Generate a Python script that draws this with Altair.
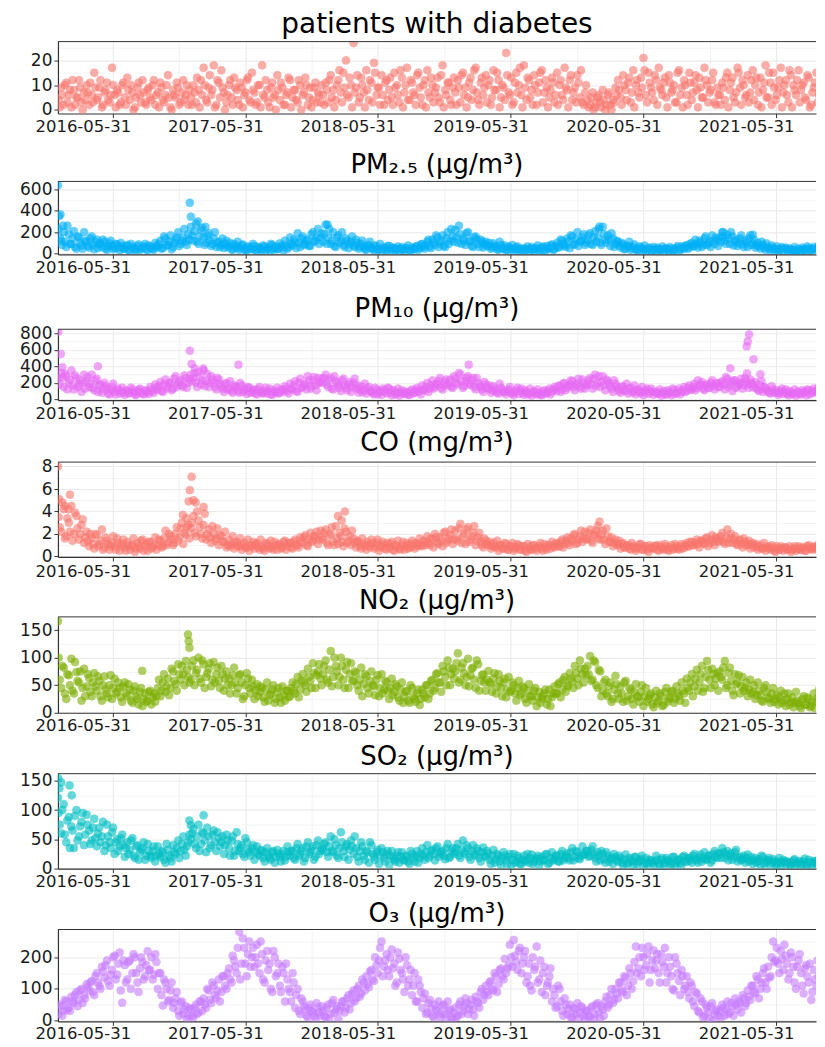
import altair as alt
import pandas as pd

# ---------------- data: two readings per week (Sundays from 2016-01-03, Wednesdays from 2016-01-06),
# ---------------- plus isolated extreme days
SUN_START = "2016-01-03"
WED_START = "2016-01-06"

diabetes_sun = [
    4, 9, 2, 11, 6, 1, 8, 5, 12, 3, 7, 10, 2,   6, 15, 4, 9, 1, 7, 11, 3, 17, 6, 8, 2, 10,
    5, 13, 4, 7, 1, 9, 6, 12, 3, 8, 5, 10, 2,    7, 11, 4, 6, 14, 1, 8, 5, 9, 3, 12, 6, 2,
    5, 10, 3, 8, 12, 17, 4, 9, 6, 18, 2, 11, 16, 7, 3, 10, 5, 13, 8, 2, 9, 6, 12, 4, 15, 7,
    3, 10, 18, 5, 8, 1, 11, 6, 14, 4, 9, 2, 7,   12, 5, 8, 3, 10, 6, 13, 2, 9, 4, 11, 7, 3,
    6, 11, 3, 14, 8, 4, 12, 7, 15, 20, 5, 10, 27, 9, 3, 13, 7, 16, 4, 11, 19, 6, 9, 14, 2, 12,
    8, 5, 15, 10, 3, 13, 7, 17, 4, 11, 6, 14, 9, 2, 12, 16, 5, 10, 7, 13, 3, 18, 8, 11, 4, 9,
    7, 12, 3, 15, 9, 5, 13, 8, 17, 4, 11, 6, 14, 10, 2, 16, 8, 12, 5, 9, 23, 7, 13, 3, 15, 10,
    6, 18, 4, 12, 8, 14, 2, 11, 16, 7, 9, 5, 13, 3, 15, 10, 6, 17, 8, 12, 4, 9, 14, 5, 3, 7,
    4, 2, 7, 1, 5, 3, 8, 0, 6, 2, 4, 9, 12,      5, 14, 8, 11, 3, 16, 10, 7, 13, 21, 6, 15, 9,
    4, 12, 17, 8, 11, 5, 14, 7, 10, 3, 16, 9, 12, 6, 15, 4, 11, 8, 13, 5, 17, 10, 7, 12, 3, 9,
    6, 11, 4, 15, 8, 13, 3, 17, 9, 12, 5, 14, 7, 16, 10, 2, 13, 8, 18, 5, 11, 15, 4, 9, 17, 7,
    12, 3, 14, 10, 6, 16, 8, 11, 4, 13, 2, 9, 15, 6, 8, 3, 11, 5, 10, 1, 7, 12, 4, 9, 2, 6,
]
diabetes_wed = [
    1, 6, 10, 3, 8, 12, 2, 5, 9, 0, 4, 7, 11,    3, 9, 5, 12, 2, 8, 4, 6, 10, 1, 7, 3, 11,
    2, 8, 10, 0, 5, 11, 3, 7, 2, 9, 4, 12, 6,    1, 9, 3, 10, 5, 0, 6, 11, 2, 7, 4, 10, 8,
    2, 7, 13, 1, 6, 10, 3, 14, 8, 1, 12, 5, 9,   0, 6, 12, 2, 9, 4, 11, 1, 7, 13, 3, 8, 2,
    10, 1, 6, 12, 3, 9, 5, 0, 8, 11, 2, 6, 13,   1, 8, 4, 12, 0, 7, 10, 5, 1, 9, 3, 6, 10,
    2, 8, 12, 5, 1, 10, 16, 3, 9, 6, 13, 1, 7,   14, 5, 10, 1, 8, 12, 3, 15, 9, 2, 6, 11, 4,
    13, 2, 9, 6, 16, 1, 10, 4, 12, 7, 2, 15, 5,  10, 1, 7, 13, 3, 9, 5, 14, 1, 6, 11, 2, 13,
    2, 9, 14, 6, 1, 11, 4, 16, 7, 2, 13, 9, 3,   12, 5, 8, 15, 1, 10, 4, 14, 6, 2, 11, 7, 17,
    1, 9, 13, 5, 2, 10, 7, 15, 3, 12, 1, 8, 11,  6, 2, 12, 4, 9, 1, 14, 7, 3, 11, 16, 2, 10,
    1, 5, 0, 3, 6, 1, 4, 2, 7, 0, 3, 6, 8,       2, 10, 4, 13, 7, 1, 12, 5, 9, 16, 3, 11, 7,
    14, 2, 9, 6, 13, 1, 11, 8, 3, 15, 6, 1, 10,  2, 11, 7, 14, 1, 9, 5, 12, 3, 8, 15, 2, 6,
    2, 9, 13, 1, 11, 5, 7, 15, 2, 10, 6, 3, 12,  4, 13, 7, 1, 11, 5, 15, 2, 9, 6, 12, 1, 10,
    6, 16, 1, 8, 12, 3, 10, 5, 14, 1, 7, 11, 3,  10, 2, 6, 1, 8, 3, 12, 0, 5, 9, 2, 7, 1,
]
diabetes_extra_dates = []
diabetes_extra_values = []

pm25_sun = [
    230, 120, 200, 60, 180, 90, 210, 45, 150, 75, 200, 110, 55,  160, 40, 130, 85, 60, 110, 35, 95, 70, 50, 85, 30, 65,
    45, 80, 25, 60, 40, 70, 35, 55, 90, 30, 65, 45, 100,          60, 120, 50, 140, 80, 170, 60, 130, 200, 90, 150, 110, 180,
    250, 120, 280, 90, 220, 150, 100, 190, 70, 140, 60, 110, 80, 50, 120, 65, 40, 90, 55, 35, 75, 45, 30, 60, 40, 70,
    25, 55, 35, 65, 45, 30, 80, 50, 40, 95, 60, 120, 45,          150, 75, 110, 190, 60, 160, 90, 130, 70, 200, 120, 230, 150,
    110, 270, 150, 90, 200, 60, 170, 120, 80, 140, 50, 110, 75,   130, 45, 90, 60, 35, 80, 50, 30, 65, 40, 25, 55, 35,
    70, 28, 50, 40, 22, 60, 35, 45, 30, 55, 40, 70, 50,           90, 45, 110, 65, 130, 80, 150, 95, 170, 60, 200, 120, 160,
    220, 100, 180, 140, 80, 200, 120, 60, 160, 90, 130, 55, 110,  70, 45, 95, 60, 35, 80, 45, 30, 65, 40, 25, 55, 32,
    20, 50, 38, 28, 60, 30, 45, 25, 55, 35, 70, 45, 85,           40, 100, 60, 120, 75, 140, 50, 160, 90, 200, 110, 150, 80,
    120, 190, 80, 210, 150, 100, 250, 130, 170, 70, 140, 90, 110, 55, 85, 45, 70, 35, 60, 40, 28, 55, 32, 22, 48, 30,
    60, 25, 42, 35, 20, 50, 30, 45, 28, 55, 38, 65, 45,           80, 55, 100, 70, 90, 120, 60, 140, 80, 110, 170, 90, 130,
    150, 200, 120, 175, 90, 160, 110, 70, 140, 85, 120, 60, 170,  95, 55, 100, 45, 80, 35, 60, 28, 50, 40, 25, 45, 30,
    55, 22, 38, 30, 18, 45, 28, 40, 25, 50, 35, 60, 40,           75, 50, 90, 55, 70, 100, 45, 85, 65, 110, 60, 95, 80,
]
pm25_wed = [
    150, 80, 110, 260, 90, 140, 60, 160, 100, 45, 120, 70, 140,   80, 110, 50, 95, 130, 45, 70, 120, 40, 90, 55, 100, 45,
    70, 35, 90, 50, 30, 85, 45, 65, 40, 75, 50, 35, 70,           90, 45, 160, 75, 110, 40, 100, 150, 70, 120, 230, 80, 130,
    170, 210, 110, 160, 240, 80, 170, 120, 90, 200, 100, 60, 140, 90, 60, 100, 35, 70, 110, 50, 85, 30, 65, 45, 90, 35,
    60, 40, 75, 30, 55, 90, 35, 65, 45, 70, 30, 80, 60,           90, 130, 50, 100, 140, 80, 120, 70, 180, 110, 150, 90, 190,
    180, 90, 230, 120, 70, 150, 100, 200, 60, 120, 90, 160, 60,   100, 60, 120, 40, 70, 110, 45, 75, 35, 90, 50, 30, 70,
    40, 55, 30, 65, 45, 35, 50, 75, 25, 45, 65, 35, 85,           60, 75, 130, 50, 100, 170, 60, 120, 70, 140, 90, 230, 110,
    150, 260, 90, 120, 190, 110, 70, 150, 130, 60, 110, 90, 70,   100, 55, 70, 40, 110, 50, 75, 35, 50, 80, 40, 65, 45,
    40, 30, 65, 45, 35, 50, 75, 35, 65, 25, 50, 75, 35,           70, 55, 130, 90, 60, 110, 170, 80, 130, 70, 120, 180, 100,
    170, 90, 150, 110, 230, 80, 180, 100, 130, 190, 60, 120, 75,  100, 40, 70, 110, 50, 85, 30, 65, 45, 75, 38, 55, 25,
    40, 55, 30, 65, 45, 35, 60, 25, 40, 70, 30, 50, 70,           45, 90, 65, 130, 55, 100, 80, 160, 95, 60, 120, 150, 70,
    110, 160, 90, 140, 200, 75, 130, 95, 170, 60, 100, 140, 80,   130, 75, 65, 110, 55, 95, 45, 75, 38, 65, 30, 60, 45,
    35, 48, 25, 60, 32, 25, 55, 35, 65, 30, 45, 25, 55,           50, 95, 35, 80, 110, 60, 75, 120, 50, 85, 130, 70, 105,
]
pm25_extra_dates = ["2016-01-01", "2016-01-04", "2016-01-08", "2016-01-15", "2016-12-29", "2017-01-01",
                    "2017-01-20", "2017-02-10", "2018-01-12", "2020-01-31", "2021-01-05", "2021-03-28"]
pm25_extra_values = [640, 350, 365, 260, 475, 345, 300, 250, 270, 252, 200, 175]

pm10_sun = [
    250, 320, 150, 280, 200, 350, 120, 260, 180, 90, 300, 220, 150,  300, 110, 250, 170, 80, 200, 130, 60, 150, 90, 110, 70, 140,
    55, 100, 80, 120, 60, 95, 130, 70, 110, 85, 150, 100, 180,       120, 210, 90, 240, 160, 200, 130, 280, 180, 230, 150, 260, 200,
    300, 260, 200, 330, 180, 350, 220, 150, 280, 200, 120, 240, 160, 90, 200, 130, 100, 170, 150, 80, 170, 110, 65, 140, 90, 120,
    60, 150, 80, 100, 70, 130, 55, 90, 140, 80, 110, 160, 100,       190, 120, 220, 90, 250, 150, 180, 280, 130, 230, 170, 260, 210,
    200, 300, 150, 260, 120, 220, 170, 100, 250, 140, 180, 90, 200,  130, 80, 160, 110, 70, 150, 90, 60, 120, 85, 55, 110, 70,
    130, 50, 95, 75, 45, 110, 65, 85, 55, 120, 80, 140, 100,         170, 110, 200, 130, 230, 150, 180, 260, 120, 210, 170, 240, 140,
    250, 180, 300, 140, 220, 280, 170, 260, 120, 200, 150, 90, 180,  130, 80, 160, 100, 70, 140, 90, 60, 120, 80, 50, 110, 65,
    130, 55, 90, 70, 45, 100, 60, 80, 50, 110, 75, 130, 90,          150, 100, 170, 120, 200, 140, 180, 220, 110, 190, 150, 240, 130,
    180, 260, 130, 300, 200, 150, 280, 110, 220, 160, 90, 190, 130,  80, 160, 100, 70, 140, 85, 60, 120, 75, 50, 110, 65, 130,
    55, 90, 70, 45, 100, 60, 85, 50, 115, 75, 130, 90, 150,          100, 170, 120, 190, 140, 160, 210, 110, 180, 140, 230, 120, 200,
    150, 220, 120, 250, 180, 100, 230, 160, 200, 130, 260, 180, 240, 150, 210, 120, 170, 90, 140, 100, 70, 120, 80, 55, 100, 65,
    120, 50, 85, 70, 45, 95, 60, 80, 50, 110, 75, 130, 90,           150, 110, 170, 130, 190, 100, 160, 200, 120, 180, 140, 210, 130,
]
pm10_wed = [
    180, 260, 310, 120, 240, 170, 290, 150, 230, 200, 130, 270, 190, 140, 230, 90, 180, 120, 160, 70, 110, 190, 60, 130, 100, 80,
    110, 70, 140, 90, 50, 115, 80, 60, 100, 65, 120, 80, 140,        160, 100, 180, 130, 200, 110, 250, 150, 210, 170, 290, 140, 240,
    220, 320, 150, 270, 230, 160, 310, 200, 240, 150, 260, 190, 130, 180, 120, 220, 80, 150, 100, 200, 90, 130, 150, 80, 110, 70,
    120, 90, 70, 140, 100, 60, 110, 85, 70, 120, 95, 130, 70,        130, 170, 100, 200, 140, 180, 120, 230, 160, 270, 110, 200, 250,
    260, 180, 230, 130, 280, 200, 140, 230, 170, 110, 210, 150, 250, 170, 120, 90, 190, 130, 100, 80, 140, 60, 100, 130, 90, 140,
    80, 110, 60, 130, 85, 70, 95, 55, 100, 70, 115, 95, 60,          120, 150, 90, 170, 130, 190, 220, 140, 170, 240, 190, 150, 280,
    200, 320, 220, 160, 260, 190, 230, 150, 260, 170, 120, 210, 140, 170, 110, 130, 80, 190, 120, 90, 100, 150, 70, 90, 140, 100,
    80, 110, 60, 130, 85, 70, 120, 55, 95, 70, 100, 60, 120,         120, 160, 90, 190, 110, 160, 230, 150, 170, 250, 130, 200, 170,
    230, 180, 250, 160, 280, 210, 170, 240, 190, 130, 230, 160, 100, 150, 110, 190, 130, 90, 170, 110, 90, 150, 95, 130, 85, 100,
    90, 70, 120, 80, 60, 110, 75, 130, 65, 95, 60, 110, 90,          140, 120, 150, 110, 230, 180, 130, 170, 140, 200, 160, 190, 150,
    200, 180, 270, 150, 210, 230, 140, 190, 250, 170, 220, 140, 200, 180, 130, 100, 220, 150, 110, 80, 160, 90, 110, 75, 130, 90,
    70, 100, 60, 120, 80, 65, 110, 90, 120, 60, 100, 85, 110,        120, 180, 90, 150, 110, 160, 140, 120, 200, 160, 110, 180, 150,
]
pm10_extra_dates = ["2016-01-02", "2016-01-09", "2016-01-13", "2016-04-20", "2016-12-29", "2017-01-03",
                    "2017-01-12", "2017-02-04", "2017-05-12", "2019-02-05", "2021-01-25", "2021-03-18",
                    "2021-03-14", "2021-03-11", "2021-03-30", "2021-03-12", "2021-04-18"]
pm10_extra_values = [820, 550, 390, 400, 590, 430, 375, 375, 420, 420, 376, 788, 703, 642, 485, 315, 303]

co_sun = [
    3.5, 2.2, 4.2, 1.8, 3.0, 4.5, 2.0, 3.6, 1.5, 2.8, 1.2, 2.2, 0.9,  1.6, 0.7, 1.9, 1.1, 2.4, 0.8, 1.4, 0.6, 1.2, 0.9, 1.6, 0.5, 1.1,
    0.8, 1.3, 0.6, 1.0, 0.4, 1.2, 0.7, 1.5, 0.9, 0.5, 1.3, 0.8, 1.7,  1.0, 1.4, 0.9, 2.3, 1.2, 1.8, 1.0, 2.0, 1.4, 2.5, 1.1, 1.9, 2.8,
    2.5, 3.6, 1.8, 3.2, 2.0, 2.8, 1.5, 2.4, 1.2, 2.0, 1.6, 1.0, 1.8,  1.3, 0.8, 1.5, 1.1, 0.7, 1.3, 0.9, 0.6, 1.2, 0.8, 0.5, 1.0, 0.7,
    1.2, 0.6, 0.9, 0.5, 1.1, 0.7, 0.8, 1.3, 0.6, 1.0, 0.8, 1.4, 0.9,  1.2, 0.7, 1.5, 1.0, 1.7, 1.2, 1.9, 0.9, 2.1, 1.4, 1.8, 1.1, 2.3,
    1.5, 2.4, 1.0, 2.0, 1.3, 2.7, 1.1, 1.8, 0.9, 2.2, 1.4, 1.0, 1.6,  0.8, 1.3, 0.7, 1.1, 0.6, 1.0, 1.5, 0.7, 1.2, 0.5, 0.9, 1.1, 0.6,
    0.8, 1.3, 0.5, 0.9, 0.7, 1.0, 0.6, 1.2, 0.8, 1.4, 0.7, 1.1, 1.6,  0.9, 1.3, 1.8, 1.0, 1.5, 2.0, 1.2, 1.7, 0.9, 2.2, 1.4, 1.9, 1.1,
    2.3, 1.4, 2.9, 1.8, 1.1, 2.6, 1.5, 2.1, 1.0, 1.7, 1.3, 0.8, 1.4,  1.0, 0.7, 1.2, 0.8, 0.5, 1.0, 0.7, 1.1, 0.6, 0.9, 0.5, 0.8, 1.0,
    0.6, 0.9, 0.4, 0.8, 0.6, 1.0, 0.5, 0.9, 0.7, 1.1, 0.6, 1.0, 1.3,  0.8, 1.2, 0.9, 1.5, 1.1, 1.7, 1.0, 1.4, 2.0, 1.2, 1.8, 1.3, 2.2,
    1.6, 2.4, 1.2, 2.0, 2.7, 1.5, 2.3, 1.1, 1.8, 1.3, 0.9, 1.5, 1.0,  0.7, 1.2, 0.8, 1.0, 0.6, 0.9, 0.5, 0.8, 1.1, 0.6, 0.9, 0.4, 0.8,
    0.7, 1.0, 0.5, 0.8, 0.6, 0.9, 0.5, 1.0, 0.7, 0.9, 0.6, 1.1, 0.8,  1.2, 0.9, 1.3, 1.0, 1.5, 0.8, 1.4, 1.1, 1.7, 1.2, 1.9, 1.0, 1.6,
    1.4, 2.1, 1.1, 2.4, 1.6, 1.2, 1.8, 1.0, 1.5, 0.8, 1.3, 1.0, 0.7,  1.2, 0.9, 0.6, 1.0, 0.7, 0.5, 0.9, 0.6, 0.8, 0.4, 0.7, 0.9, 0.5,
    0.8, 0.6, 0.4, 0.7, 0.5, 0.9, 0.6, 0.8, 0.5, 1.0, 0.7, 0.9, 0.6,  1.1, 0.8, 1.3, 0.9, 1.5, 1.0, 1.2, 1.7, 0.9, 1.4, 1.1, 1.8, 1.2,
]
co_wed = [
    2.6, 4.8, 1.6, 3.4, 2.2, 1.4, 3.9, 2.5, 2.0, 3.3, 1.7, 1.4, 2.0,  1.1, 2.0, 0.9, 1.4, 0.6, 1.7, 1.1, 0.9, 1.8, 0.6, 1.2, 0.9, 1.5,
    0.5, 1.0, 0.9, 1.6, 0.7, 0.9, 1.4, 0.5, 1.1, 1.3, 0.7, 1.0, 0.6,  1.5, 0.8, 1.6, 1.0, 2.0, 1.5, 1.2, 2.6, 1.7, 3.0, 2.1, 2.6, 1.6,
    3.0, 2.1, 4.0, 2.6, 1.6, 3.8, 2.0, 1.7, 2.7, 1.4, 2.5, 1.9, 1.3,  2.2, 1.0, 0.9, 1.8, 1.2, 0.9, 1.6, 1.0, 0.8, 1.5, 0.9, 1.3, 1.1,
    0.8, 1.5, 0.7, 1.2, 0.9, 1.4, 0.6, 1.0, 1.1, 0.7, 1.3, 0.6, 1.2,  0.8, 1.3, 1.0, 0.8, 1.4, 1.7, 1.0, 1.5, 1.3, 1.8, 2.2, 1.5, 1.7,
    2.1, 1.2, 1.9, 2.6, 1.0, 1.6, 2.1, 1.3, 2.5, 1.2, 1.8, 2.3, 1.2,  1.4, 0.9, 1.6, 0.9, 1.3, 0.8, 1.2, 0.9, 1.5, 0.8, 1.3, 0.7, 1.2,
    1.1, 0.6, 1.0, 1.4, 0.6, 1.3, 0.9, 0.7, 1.1, 0.9, 1.2, 0.9, 1.0,  1.4, 1.0, 1.2, 1.6, 0.8, 1.7, 1.1, 1.4, 2.1, 1.2, 1.6, 2.4, 1.5,
    1.6, 2.5, 1.2, 2.0, 2.4, 1.3, 1.8, 2.7, 1.4, 2.1, 1.0, 1.6, 1.1,  1.3, 0.9, 0.9, 1.4, 1.0, 0.7, 1.2, 0.6, 0.9, 1.2, 0.7, 1.1, 0.6,
    0.9, 0.5, 1.1, 0.6, 1.0, 0.7, 0.8, 1.2, 0.5, 0.8, 1.0, 0.7, 0.9,  1.1, 0.9, 1.3, 0.8, 1.4, 1.2, 1.6, 1.9, 1.1, 1.5, 2.3, 1.6, 1.5,
    2.1, 1.4, 1.9, 2.3, 1.6, 2.0, 1.5, 2.5, 1.3, 1.7, 1.2, 1.1, 1.4,  1.1, 0.8, 1.0, 0.7, 1.2, 0.8, 0.7, 1.1, 0.6, 0.9, 0.6, 1.0, 0.7,
    0.9, 0.6, 1.0, 0.7, 1.1, 0.6, 0.8, 0.6, 1.1, 0.7, 0.9, 0.7, 1.0,  0.9, 1.3, 1.0, 1.2, 1.1, 1.4, 1.2, 1.6, 0.9, 1.5, 1.3, 1.7, 1.3,
    1.8, 1.3, 1.7, 1.2, 2.0, 1.5, 1.1, 1.4, 1.1, 1.6, 1.0, 1.4, 1.1,  0.8, 1.1, 0.8, 0.7, 1.2, 0.8, 0.7, 1.0, 0.5, 0.9, 0.6, 0.7, 0.8,
    0.6, 0.9, 0.6, 0.9, 0.7, 0.6, 0.8, 0.5, 0.9, 0.7, 0.6, 0.8, 0.9,  0.7, 1.2, 0.9, 1.1, 1.0, 1.4, 0.8, 1.3, 1.5, 1.1, 1.6, 1.0, 1.4,
]
co_extra_dates = ["2016-01-01", "2016-01-04", "2016-02-03", "2016-01-20", "2016-01-30", "2016-12-10",
                  "2016-12-20", "2016-12-26", "2016-12-29", "2017-01-03", "2017-01-08", "2017-01-14",
                  "2017-02-05", "2018-02-10", "2018-02-20", "2018-03-01", "2020-01-31"]
co_extra_values = [8.0, 5.1, 5.5, 4.5, 4.2, 3.7, 3.4, 4.9, 5.9, 7.1, 5.0, 4.8, 4.4, 3.6, 3.2, 4.0, 3.1]

no2_sun = [
    100, 45, 82, 25, 68, 98, 35, 74, 55, 22, 80, 48, 63,  30, 72, 40, 58, 22, 66, 35, 50, 25, 62, 38, 45, 20,
    55, 30, 42, 18, 48, 25, 38, 12, 35, 22, 40, 28, 20,   45, 30, 55, 38, 62, 45, 75, 52, 88, 60, 70, 94, 65,
    60, 95, 72, 100, 55, 88, 65, 80, 48, 92, 70, 58, 85,  40, 75, 62, 50, 82, 35, 68, 55, 30, 72, 45, 60, 25,
    52, 38, 45, 20, 55, 32, 42, 18, 38, 28, 48, 22, 40,   30, 55, 35, 65, 42, 70, 50, 80, 58, 90, 45, 75, 62,
    70, 95, 55, 112, 65, 85, 50, 100, 60, 78, 45, 90, 58, 72, 40, 82, 52, 66, 35, 75, 48, 60, 30, 70, 42, 55,
    25, 62, 38, 48, 22, 55, 30, 40, 18, 45, 25, 35, 14,   42, 28, 50, 35, 60, 45, 72, 55, 85, 65, 95, 50, 80,
    75, 108, 60, 90, 50, 98, 68, 82, 45, 88, 58, 70, 40,  76, 52, 62, 35, 70, 45, 55, 28, 65, 40, 50, 22, 58,
    35, 45, 18, 52, 30, 40, 12, 38, 25, 35, 15, 42, 28,   48, 35, 55, 42, 65, 50, 72, 58, 85, 62, 95, 70, 80,
    85, 103, 60, 92, 45, 75, 40, 60, 30, 55, 25, 67, 35,  48, 20, 58, 30, 42, 15, 52, 28, 38, 12, 45, 25, 35,
    10, 40, 22, 30, 14, 45, 25, 38, 18, 48, 30, 55, 35,   62, 40, 70, 48, 78, 55, 85, 45, 94, 60, 80, 50, 72,
    75, 60, 94, 50, 82, 40, 70, 55, 35, 65, 45, 30, 60,   38, 25, 55, 32, 20, 50, 28, 18, 45, 25, 15, 40, 22,
    12, 35, 20, 10, 38, 18, 8, 30, 15, 25, 12, 35, 20,    42, 25, 48, 30, 55, 22, 45, 35, 58, 28, 50, 40, 32,
]
no2_wed = [
    60, 85, 35, 70, 50, 40, 92, 58, 75, 45, 30, 70, 38,   55, 48, 66, 30, 50, 42, 28, 68, 45, 35, 55, 28, 48,
    35, 52, 22, 40, 30, 15, 45, 25, 20, 38, 15, 35, 30,   60, 40, 70, 48, 32, 80, 58, 40, 70, 85, 50, 78, 55,
    85, 50, 78, 62, 95, 45, 72, 90, 60, 55, 82, 45, 70,   62, 50, 35, 68, 55, 45, 70, 25, 50, 62, 35, 48, 40,
    30, 48, 28, 42, 22, 35, 50, 25, 45, 18, 32, 40, 28,   45, 40, 52, 28, 58, 55, 38, 65, 45, 72, 68, 88, 50,
    85, 60, 78, 48, 100, 75, 65, 85, 45, 92, 70, 58, 75,  50, 60, 30, 70, 45, 58, 50, 32, 68, 45, 35, 58, 40,
    45, 32, 52, 28, 42, 18, 38, 22, 50, 30, 20, 42, 25,   35, 50, 25, 58, 40, 70, 55, 38, 75, 50, 82, 70, 62,
    90, 55, 82, 72, 65, 48, 80, 60, 95, 40, 68, 55, 60,   55, 38, 72, 48, 58, 30, 62, 42, 38, 55, 35, 45, 32,
    48, 25, 40, 30, 22, 45, 28, 18, 30, 42, 25, 12, 35,   35, 52, 28, 60, 38, 48, 62, 45, 72, 50, 80, 55, 68,
    70, 58, 95, 50, 78, 30, 55, 35, 48, 20, 42, 52, 25,   35, 55, 22, 45, 25, 38, 30, 20, 50, 30, 20, 32, 15,
    28, 18, 35, 12, 38, 20, 28, 40, 25, 35, 22, 40, 18,   45, 55, 30, 62, 40, 70, 38, 65, 78, 45, 70, 62, 40,
    65, 82, 45, 72, 58, 32, 52, 68, 48, 40, 55, 42, 35,   50, 32, 40, 22, 45, 38, 25, 35, 20, 32, 28, 18, 35,
    25, 15, 28, 18, 22, 12, 25, 15, 28, 10, 20, 8, 28,    30, 38, 20, 40, 25, 48, 35, 28, 45, 38, 25, 52, 45,
]
no2_extra_dates = ["2016-01-01", "2016-08-20", "2016-12-24", "2016-12-26", "2016-12-28"]
no2_extra_values = [166, 76, 142, 130, 118]

so2_sun = [
    95, 60, 110, 45, 88, 72, 35, 100, 55, 80, 40, 92, 65,  48, 85, 38, 70, 55, 30, 75, 45, 62, 25, 50, 38, 58,
    20, 45, 32, 52, 18, 40, 28, 35, 15, 42, 22, 30, 12,    38, 20, 28, 10, 32, 18, 40, 25, 48, 30, 55, 22, 45,
    50, 68, 35, 75, 42, 60, 28, 55, 40, 65, 30, 52, 45,    25, 58, 35, 48, 22, 62, 30, 40, 20, 45, 28, 35, 15,
    38, 22, 30, 12, 35, 18, 28, 10, 32, 20, 25, 14, 38,    22, 30, 15, 42, 25, 35, 18, 45, 28, 38, 20, 48, 30,
    32, 45, 20, 55, 28, 40, 18, 62, 30, 38, 15, 48, 25,    35, 12, 45, 22, 30, 10, 40, 20, 28, 8, 35, 18, 25,
    6, 30, 15, 22, 10, 28, 14, 20, 8, 25, 12, 30, 18,      35, 15, 40, 22, 32, 14, 38, 25, 30, 16, 42, 20, 35,
    28, 42, 18, 48, 25, 35, 15, 40, 22, 30, 12, 36, 20,    26, 8, 32, 16, 22, 6, 28, 14, 20, 5, 25, 12, 18,
    8, 22, 15, 10, 24, 12, 18, 6, 20, 14, 25, 10, 28,      16, 22, 12, 30, 18, 26, 14, 35, 20, 28, 16, 38, 24,
    30, 22, 38, 18, 28, 14, 25, 10, 22, 16, 8, 20, 12,     18, 6, 24, 10, 15, 5, 20, 12, 16, 4, 18, 10, 14,
    6, 22, 9, 15, 5, 18, 12, 8, 20, 10, 16, 6, 22,         12, 18, 10, 25, 14, 20, 12, 28, 16, 22, 14, 30, 18,
    25, 35, 18, 30, 22, 15, 28, 12, 20, 16, 10, 24, 14,    8, 18, 12, 6, 20, 10, 14, 5, 16, 9, 12, 4, 15,
    8, 11, 5, 14, 7, 10, 4, 12, 8, 15, 6, 13, 9,           16, 7, 18, 10, 14, 8, 20, 12, 15, 9, 22, 11, 16,
]
so2_wed = [
    75, 100, 58, 82, 35, 65, 90, 48, 72, 95, 58, 75, 42,   70, 52, 60, 45, 80, 40, 55, 35, 70, 45, 30, 52, 40,
    35, 25, 48, 22, 38, 15, 32, 45, 22, 30, 18, 38, 22,    25, 30, 15, 42, 22, 12, 28, 35, 18, 42, 32, 38, 58,
    60, 42, 55, 30, 62, 48, 70, 35, 58, 45, 62, 38, 55,    40, 48, 22, 55, 30, 42, 35, 25, 52, 32, 22, 40, 28,
    25, 32, 18, 28, 22, 15, 30, 20, 25, 12, 30, 20, 28,    30, 18, 35, 22, 30, 12, 38, 25, 32, 15, 40, 25, 35,
    42, 28, 38, 30, 50, 22, 35, 45, 20, 42, 32, 38, 55,    20, 30, 38, 15, 28, 45, 25, 15, 32, 22, 28, 12, 30,
    22, 18, 12, 28, 20, 15, 22, 12, 30, 18, 22, 10, 25,    22, 28, 18, 30, 25, 35, 20, 28, 22, 35, 18, 30, 25,
    35, 22, 32, 28, 40, 20, 30, 25, 35, 18, 28, 22, 30,    15, 22, 10, 25, 12, 18, 22, 8, 25, 15, 10, 22, 8,
    15, 12, 25, 18, 8, 16, 22, 12, 15, 24, 8, 18, 14,      22, 12, 25, 14, 22, 18, 28, 14, 30, 18, 22, 25, 30,
    20, 32, 25, 12, 22, 30, 16, 28, 12, 18, 25, 14, 22,    10, 15, 8, 18, 12, 20, 8, 14, 22, 10, 8, 15, 10,
    12, 15, 6, 18, 10, 14, 8, 20, 6, 14, 10, 20, 12,       18, 14, 22, 16, 10, 24, 18, 15, 22, 10, 25, 20, 26,
    18, 28, 24, 14, 26, 20, 32, 18, 14, 22, 18, 12, 20,    14, 10, 16, 22, 8, 14, 18, 10, 12, 6, 18, 10, 12,
    12, 6, 10, 16, 9, 13, 8, 17, 6, 11, 9, 12, 6,          10, 14, 12, 6, 16, 12, 10, 15, 18, 8, 13, 16, 10,
]
so2_extra_dates = ["2016-01-01", "2016-01-02", "2016-01-05", "2016-01-10", "2016-02-02", "2016-02-08",
                   "2016-12-28", "2017-01-01", "2017-02-05"]
so2_extra_values = [121, 154, 137, 147, 142, 125, 82, 74, 91]

o3_sun = [
    20, 45, 30, 60, 40, 75, 55, 90, 65, 100, 80, 115, 95,       125, 80, 150, 110, 170, 135, 190, 110, 160, 205, 145, 215, 56,
    175, 130, 190, 150, 200, 120, 165, 185, 140, 219, 160, 130, 210, 100, 150, 47, 120, 60, 95, 40, 70, 30, 55, 20, 45, 15,
    35, 10, 50, 25, 60, 70, 40, 95, 55, 110, 70, 130, 90,        140, 100, 165, 120, 190, 150, 281, 180, 230, 140, 250, 200, 170,
    240, 150, 210, 120, 220, 180, 90, 200, 150, 110, 170, 60, 130, 90, 150, 40, 100, 20, 60, 35, 10, 50, 25, 5, 40, 15,
    30, 10, 50, 20, 65, 35, 5, 45, 60, 40, 80, 55, 95,           70, 110, 85, 120, 140, 105, 160, 125, 175, 190, 250, 170, 210,
    140, 225, 180, 120, 195, 150, 90, 175, 130, 80, 150, 60, 110, 40, 85, 25, 65, 15, 50, 30, 10, 45, 20, 60, 35, 5,
    40, 15, 60, 30, 70, 20, 50, 35, 75, 55, 90, 65, 110,         80, 125, 95, 140, 115, 165, 130, 150, 175, 200, 255, 185, 220,
    150, 200, 120, 180, 95, 160, 234, 130, 90, 170, 110, 140, 60, 80, 45, 100, 30, 70, 20, 50, 10, 35, 55, 25, 40, 5,
    30, 10, 45, 20, 55, 5, 35, 60, 40, 80, 55, 100, 70,          120, 90, 135, 110, 150, 125, 234, 165, 140, 200, 175, 234, 160,
    222, 190, 150, 210, 170, 120, 200, 140, 95, 180, 125, 160, 100, 140, 70, 110, 45, 85, 25, 60, 15, 40, 5, 55, 20, 35,
    30, 50, 15, 60, 25, 45, 70, 35, 55, 80, 45, 95, 65,          110, 85, 130, 100, 150, 120, 170, 140, 250, 190, 180, 220, 160,
    205, 130, 215, 170, 100, 190, 150, 85, 175, 120, 65, 160, 110, 140, 90, 120, 60, 100, 45, 80, 35, 70, 25, 55, 40, 30,
]
o3_wed = [
    50, 15, 65, 35, 30, 60, 80, 45, 95, 55, 70, 105, 120,        90, 140, 120, 100, 155, 175, 125, 145, 200, 130, 180, 95, 190,
    120, 185, 100, 210, 150, 90, 200, 130, 175, 160, 200, 145, 185, 150, 80, 130, 100, 65, 120, 55, 90, 15, 60, 35, 5, 40,
    15, 40, 20, 60, 30, 50, 100, 65, 120, 80, 95, 60, 140,       110, 150, 130, 205, 170, 230, 130, 260, 180, 210, 170, 230, 200,
    180, 250, 130, 190, 160, 100, 220, 140, 180, 90, 150, 180, 100, 60, 120, 80, 30, 70, 45, 15, 40, 30, 15, 55, 25, 45,
    15, 40, 5, 55, 25, 45, 30, 60, 25, 70, 35, 85, 60,           100, 75, 130, 95, 115, 155, 130, 200, 150, 230, 140, 190, 160,
    200, 165, 110, 215, 160, 130, 200, 110, 160, 110, 60, 130, 90, 70, 20, 55, 40, 10, 35, 60, 20, 50, 5, 30, 10, 25,
    10, 50, 20, 45, 55, 35, 65, 15, 60, 40, 100, 80, 90,         120, 100, 150, 90, 160, 140, 195, 165, 240, 170, 205, 160, 230,
    180, 220, 140, 110, 200, 170, 120, 190, 150, 80, 120, 165, 100, 40, 110, 60, 15, 50, 35, 10, 40, 20, 5, 45, 15, 30,
    15, 40, 5, 50, 25, 45, 15, 75, 50, 100, 65, 85, 120,         95, 140, 80, 165, 100, 185, 150, 200, 230, 160, 210, 120, 190,
    165, 210, 120, 185, 230, 150, 170, 100, 200, 150, 80, 140, 110, 90, 120, 60, 90, 30, 70, 10, 50, 25, 45, 0, 30, 15,
    10, 40, 35, 20, 55, 15, 50, 60, 25, 70, 55, 75, 110,         90, 140, 70, 120, 165, 100, 135, 200, 185, 230, 150, 195, 240,
    180, 150, 200, 120, 170, 210, 110, 165, 140, 180, 90, 130, 190, 110, 150, 80, 130, 70, 110, 50, 90, 60, 40, 70, 15, 45,
]
o3_extra_dates = []
o3_extra_values = []

titles = ["patients with diabetes", "PM\u2082.\u2085 (\u03bcg/m\u00b3)", "PM\u2081\u2080 (\u03bcg/m\u00b3)",
          "CO (mg/m\u00b3)", "NO\u2082 (\u03bcg/m\u00b3)", "SO\u2082 (\u03bcg/m\u00b3)", "O\u2083 (\u03bcg/m\u00b3)"]
colors = ["#F8766D", "#00B0F6", "#E76BF3", "#F8766D", "#7CAE00", "#00BFC4", "#C77CFF"]
x_major_years = [2016, 2017, 2018, 2019, 2020, 2021]

# ---------------- chart ----------------
FONT = "DejaVu Sans"
PLOT_W = 759            # visible part of the time axis (reference is cropped on the right)
X_START, X_END = "2016-01-01", "2021-09-18"


def dt(s):
    y, m, d = (int(p) for p in s.split("-"))
    return alt.DateTime(year=y, month=m, date=d, utc=True)


x_values = []
for y in x_major_years:
    x_values.append(dt(f"{y}-05-31"))
    x_values.append(dt(f"{y}-11-30"))
x_is_major = "utcmonth(datum.value) == 4"


def dated(start, n):
    return pd.date_range(start, periods=n, freq="7D").strftime("%Y-%m-%d").tolist()


def panel(sun, wed, extra_d, extra_v, title, color, domain, major, minor, height, x_extent,
          x_pad, title_size=26, title_offset=2):
    df = pd.DataFrame({
        "date": dated(SUN_START, len(sun)) + dated(WED_START, len(wed)) + list(extra_d),
        "value": list(sun) + list(wed) + list(extra_v),
    })
    major_js = "[" + ",".join(str(m) for m in major) + "]"
    y_is_major = f"indexof({major_js}, datum.value) >= 0"
    y_axis = alt.Axis(
        values=sorted(major + minor),
        labelExpr=f"{y_is_major} ? datum.label : ''",
        tickOpacity={"condition": {"test": y_is_major, "value": 1}, "value": 0},
        gridWidth={"condition": {"test": y_is_major, "value": 1.1}, "value": 0.6},
        labelFontSize=17, labelPadding=2, minExtent=45, maxExtent=45, title=None, labelOverlap=False,
    )
    x_axis = alt.Axis(
        values=x_values,
        labelExpr=f"{x_is_major} ? utcFormat(datum.value, '%Y-%m-%d') : ''",
        tickOpacity={"condition": {"test": x_is_major, "value": 1}, "value": 0},
        gridWidth={"condition": {"test": x_is_major, "value": 1.1}, "value": 0.6},
        labelFontSize=16.5, labelPadding=x_pad, labelOffset=-30, labelFlush=False, labelOverlap=False,
        minExtent=x_extent, maxExtent=x_extent, title=None,
    )
    points = alt.Chart(df).mark_circle(
        size=62, opacity=0.6, color=color, stroke=color, strokeWidth=0.8, clip=True
    ).encode(
        x=alt.X("date:T", axis=x_axis, scale=alt.Scale(type="utc", domain=[dt(X_START), dt(X_END)])),
        y=alt.Y("value:Q", axis=y_axis, scale=alt.Scale(domain=domain, nice=False, zero=False)),
    )
    top_border = alt.Chart(pd.DataFrame({"edge": [0]})).mark_rule(
        color="#333333", strokeWidth=1
    ).encode(x=alt.value(0), x2=alt.value(PLOT_W), y=alt.value(0))
    return alt.layer(points, top_border).properties(
        width=PLOT_W, height=height,
        title=alt.TitleParams(title, fontSize=title_size, font=FONT, fontWeight="normal",
                              color="black", offset=title_offset, anchor="middle"),
    )


panels = [
    panel(diabetes_sun, diabetes_wed, diabetes_extra_dates, diabetes_extra_values, titles[0], colors[0],
          [-1.5, 27.6], [0, 10, 20], [5, 15, 25], 72, 39, 1, title_size=28, title_offset=0),
    panel(pm25_sun, pm25_wed, pm25_extra_dates, pm25_extra_values, titles[1], colors[1],
          [-8, 675], [0, 200, 400, 600], [100, 300, 500], 73, 42, 1),
    panel(pm10_sun, pm10_wed, pm10_extra_dates, pm10_extra_values, titles[2], colors[2],
          [-10, 850], [0, 200, 400, 600, 800], [100, 300, 500, 700], 71, 29, 1),
    panel(co_sun, co_wed, co_extra_dates, co_extra_values, titles[3], colors[3],
          [-0.05, 8.4], [0, 2, 4, 6, 8], [1, 3, 5, 7], 95, 31, 3),
    panel(no2_sun, no2_wed, no2_extra_dates, no2_extra_values, titles[4], colors[4],
          [0, 174], [0, 50, 100, 150], [25, 75, 125], 96, 31, 1),
    panel(so2_sun, so2_wed, so2_extra_dates, so2_extra_values, titles[5], colors[5],
          [0, 162], [0, 50, 100, 150], [25, 75, 125], 95, 32, 1),
    panel(o3_sun, o3_wed, o3_extra_dates, o3_extra_values, titles[6], colors[6],
          [-3, 288], [0, 100, 200], [50, 150, 250], 92, 24, 0),
]

chart = alt.vconcat(*panels, spacing=0).properties(
    padding={"left": 5, "top": 2, "right": 0, "bottom": 0}
).configure_view(
    stroke=None
).configure_axis(
    labelFont=FONT, labelColor="#1a1a1a", tickColor="#333333", tickSize=4, tickWidth=1,
    domainColor="#333333", domainWidth=1.2, gridColor="#EBEBEB",
).configure_concat(spacing=0)

chart.save("out.html", embed_options={"renderer": "svg", "actions": False})
